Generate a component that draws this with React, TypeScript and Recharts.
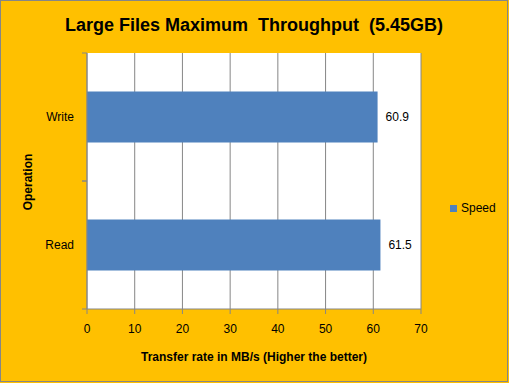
import { Bar, BarChart, CartesianGrid, LabelList, Legend, XAxis, YAxis } from 'recharts'

const operations = ['Write', 'Read']
const speeds = [60.9, 61.5]
const rateTicks = [0, 10, 20, 30, 40, 50, 60, 70]

const data = operations.map((name, i) => ({ name, Speed: speeds[i] }))

const FONT = '"Liberation Sans", Arial, sans-serif'
const GRAY = '#868686'
const BLUE = '#4F81BD'
const PLOT_H = 256

function OperationTick({ x, y, payload }: any) {
  const half = PLOT_H / operations.length / 2
  return (
    <g>
      <text x={x - 13} y={y} dy="0.35em" textAnchor="end" fontSize={12} fontFamily={FONT} fill="#000">{payload.value}</text>
      <line x1={x - 5} x2={x} y1={y - half} y2={y - half} stroke={GRAY} />
      <line x1={x - 5} x2={x} y1={y + half} y2={y + half} stroke={GRAY} />
    </g>
  )
}

function SpeedLegend({ payload }: any) {
  return (
    <div style={{ fontFamily: FONT, fontSize: 12, color: '#000' }}>
      {(payload ?? []).map((item: any) => (
        <div key={item.value} style={{ display: 'flex', alignItems: 'center', gap: 4 }}>
          <span style={{ width: 7, height: 7, background: BLUE, display: 'inline-block' }} />
          <span>{item.value}</span>
        </div>
      ))}
    </div>
  )
}

export default function App() {
  return (
    <div style={{ position: 'absolute', left: 0, top: 0, width: 509, height: 383, background: '#FFC000' }}>
      <div style={{ position: 'absolute', left: 0, top: 0, width: 508, height: 382, boxSizing: 'border-box', border: `1px solid ${GRAY}` }} />
      <div style={{ position: 'absolute', left: 0, top: 0 }}>
        <BarChart width={509} height={383} data={data} layout="vertical" margin={{ top: 53, right: 88, bottom: 44, left: 27 }} barCategoryGap="30%">
          <CartesianGrid horizontal={false} stroke={GRAY} fill="#fff" fillOpacity={1} />
          <XAxis type="number" domain={[0, 70]} ticks={rateTicks} height={30} stroke={GRAY} tickSize={5} tickMargin={10}
            tick={{ fill: '#000', fontSize: 12, fontFamily: FONT }} />
          <YAxis type="category" dataKey="name" width={60} stroke={GRAY} tickLine={false} tickSize={0} tickMargin={0} tick={<OperationTick />} />
          <Legend layout="vertical" align="center" verticalAlign="middle" content={<SpeedLegend />}
            wrapperStyle={{ left: 450, top: 201, width: 60, height: 18 }} />
          <Bar dataKey="Speed" fill={BLUE} isAnimationActive={false}>
            <LabelList dataKey="Speed" position="right" offset={8} fill="#000" fontSize={12} fontFamily={FONT} />
          </Bar>
          <text x={254} y={31} textAnchor="middle" fontSize={18} fontWeight="bold" fontFamily={FONT} fill="#000" style={{ whiteSpace: 'pre' }}>Large Files Maximum  Throughput  (5.45GB)</text>
          <text x={254} y={361} textAnchor="middle" fontSize={12} fontWeight="bold" fontFamily={FONT} fill="#000">Transfer rate in MB/s (Higher the better)</text>
          <text x={32} y={182} textAnchor="middle" fontSize={12} fontWeight="bold" fontFamily={FONT} fill="#000" transform="rotate(-90 32 182)">Operation</text>
        </BarChart>
      </div>
    </div>
  )
}
